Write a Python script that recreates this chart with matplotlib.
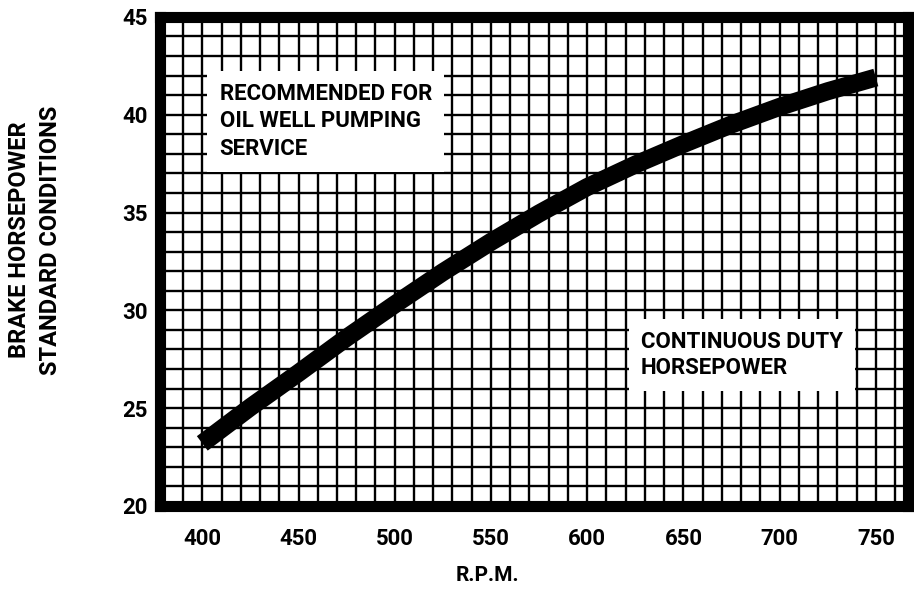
import matplotlib.pyplot as plt
from matplotlib.ticker import MultipleLocator

# (centre of the black band)
rpm = [400, 425, 450, 475, 500, 525, 550, 575, 600, 625, 650, 675, 700, 725, 750]
bhp = [23.2, 25.05, 26.8, 28.6, 30.3, 31.95, 33.5, 34.95, 36.3, 37.45, 38.5,
       39.5, 40.4, 41.2, 41.9]
x_ticks = [400, 450, 500, 550, 600, 650, 700, 750]
y_ticks = [20, 25, 30, 35, 40, 45]

plt.rcParams['font.family'] = ['Roboto', 'DejaVu Sans']
plt.rcParams['font.weight'] = 'bold'

fig = plt.figure(figsize=(9.14, 5.9), dpi=100)
ax = fig.add_axes([0.175, 0.1424, 0.818, 0.829])

ax.set_xlim(378, 766.5)
ax.set_ylim(20, 45)

# fine grid, 10 rpm by 1 hp
ax.xaxis.set_minor_locator(MultipleLocator(10))
ax.yaxis.set_minor_locator(MultipleLocator(1))
ax.set_xticks(x_ticks)
ax.set_yticks(y_ticks)
ax.grid(which='both', color='black', linewidth=1.7)
ax.set_axisbelow(True)

# thick band curve
ax.plot(rpm, bhp, color='black', linewidth=13, solid_capstyle='butt',
        solid_joinstyle='round', zorder=5)

for s in ax.spines.values():
    s.set_linewidth(8)
    s.set_color('black')

ax.tick_params(which='both', length=0, pad=16, labelsize=16)
ax.tick_params(axis='y', pad=9)

ax.text(409, 41.6,
        'RECOMMENDED FOR\nOIL WELL PUMPING\nSERVICE',
        fontsize=16, fontweight='bold', va='top', ha='left', linespacing=1.3,
        zorder=6,
        bbox=dict(boxstyle='square,pad=0.55', facecolor='white', edgecolor='none'))

ax.text(628, 28.95,
        'CONTINUOUS DUTY\nHORSEPOWER',
        fontsize=16, fontweight='bold', va='top', ha='left', linespacing=1.25,
        zorder=6,
        bbox=dict(boxstyle='square,pad=0.55', facecolor='white', edgecolor='none'))

fig.text(0.533, 0.024, 'R.P.M.', fontsize=15, fontweight='bold',
         ha='center', va='center')

fig.text(0.021, 0.593, 'BRAKE HORSEPOWER', rotation=90, fontsize=17,
         fontweight='bold', ha='center', va='center')
fig.text(0.055, 0.593, 'STANDARD CONDITIONS', rotation=90, fontsize=17,
         fontweight='bold', ha='center', va='center')

fig.savefig('out.png', dpi=100)
